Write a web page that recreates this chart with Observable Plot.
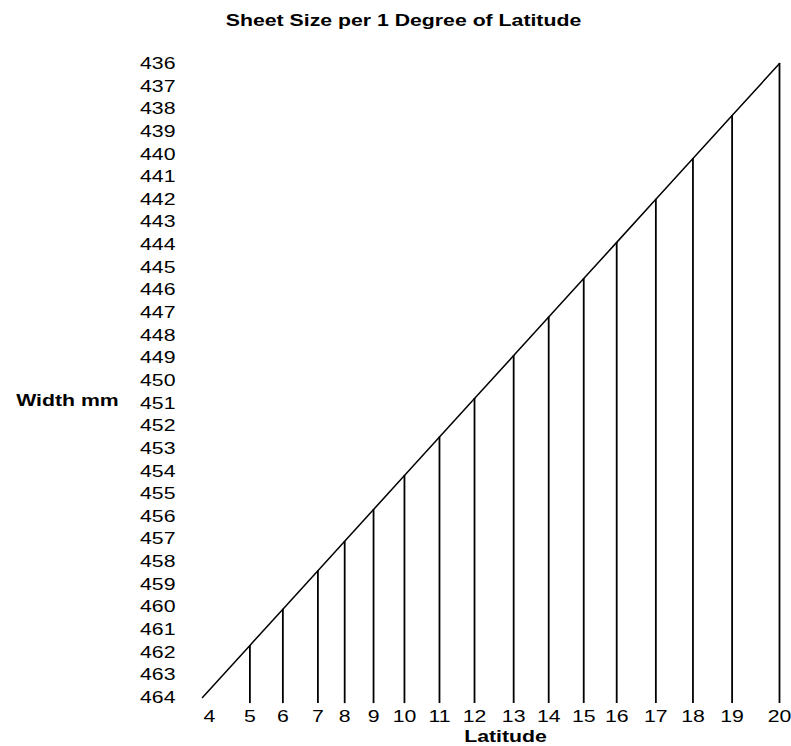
<!DOCTYPE html>
<html>
<head>
<meta charset="utf-8">
<script src="https://cdn.jsdelivr.net/npm/d3@7"></script>
<script src="https://cdn.jsdelivr.net/npm/@observablehq/plot@0.6"></script>
<style>
  html, body { margin: 0; padding: 0; background: #fff; }
</style>
</head>
<body>
<div id="chart"></div>
<script>
const title = "Sheet Size per 1 Degree of Latitude";
const xLabel = "Latitude";
const yLabel = "Width mm";
const latitudes = [4, 5, 6, 7, 8, 9, 10, 11, 12, 13, 14, 15, 16, 17, 18, 19, 20];
const widths = [464, 461.7, 460.1, 458.4, 457.1, 455.7, 454.2, 452.5, 450.8, 448.9, 447.2, 445.5, 443.9, 442.0, 440.2, 438.3, 436];
const yTicks = [436, 437, 438, 439, 440, 441, 442, 443, 444, 445, 446, 447, 448, 449, 450,
                451, 452, 453, 454, 455, 456, 457, 458, 459, 460, 461, 462, 463, 464];

const data = latitudes.map((lat, i) => ({lat, width: widths[i]}));
const base = 464.27;

const chart = Plot.plot({
  width: 791,
  height: 746,
  marginLeft: 202,
  marginRight: 12,
  marginTop: 63,
  marginBottom: 49,
  style: {fontFamily: "'Liberation Sans', Arial, sans-serif", fontSize: "17px", color: "#000", background: "#fff"},
  x: {type: "linear", domain: [464, 436], axis: null},
  y: {type: "linear", domain: [436, 464], range: [63, 697], axis: null},
  marks: [
    Plot.axisY({ticks: yTicks, tickSize: 0, tickPadding: 27, tickFormat: d => String(d), label: null, fontSize: 17}),
    Plot.ruleX(data.filter(d => d.lat > 4), {x: "width", y1: base, y2: "width", stroke: "#000", strokeWidth: 1.8}),
    Plot.line(data, {x: "width", y: "width", stroke: "#000", strokeWidth: 1.5}),
    Plot.text(data.filter(d => d.lat > 4), {x: "width", text: d => String(d.lat), frameAnchor: "bottom", dy: 19, lineAnchor: "middle", fill: "#000", fontSize: 17}),
    Plot.text(data.filter(d => d.lat === 4), {x: "width", text: d => String(d.lat), frameAnchor: "bottom", dx: 7, dy: 19, lineAnchor: "middle", fill: "#000", fontSize: 17}),
    Plot.text([xLabel], {frameAnchor: "bottom", dx: 14.5, dy: 39, lineAnchor: "middle", fontWeight: "bold", fill: "#000", fontSize: 17}),
    Plot.text([yLabel], {frameAnchor: "left", y: 451, dx: -135, dy: -3, textAnchor: "middle", lineAnchor: "middle", fontWeight: "bold", fill: "#000", fontSize: 17}),
    Plot.text([title], {frameAnchor: "top", dx: -87.5, dy: -43, lineAnchor: "middle", fontWeight: "bold", fill: "#000", fontSize: 17})
  ]
});
document.getElementById("chart").appendChild(chart);

// Reference glyphs are horizontally stretched; emulate with textLength
chart.querySelectorAll("text").forEach(t => {
  const L = t.getComputedTextLength();
  if (L > 0) {
    t.setAttribute("textLength", (L * 1.25).toFixed(2));
    t.setAttribute("lengthAdjust", "spacingAndGlyphs");
  }
});
</script>
</body>
</html>
